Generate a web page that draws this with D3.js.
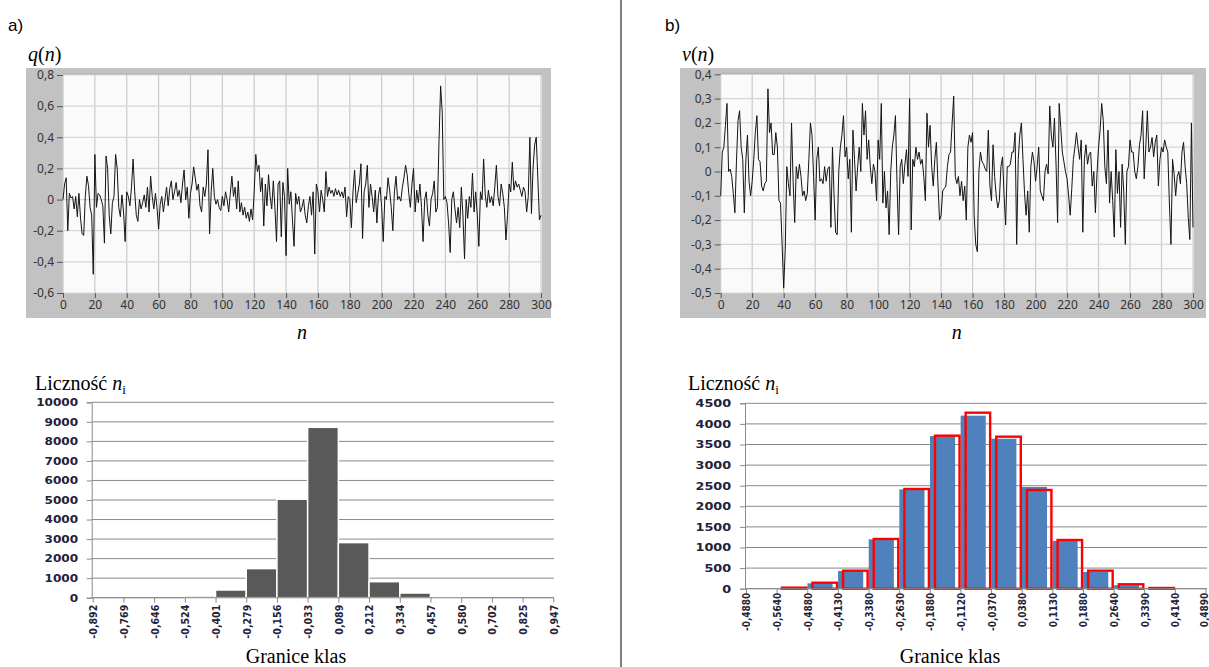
<!DOCTYPE html>
<html>
<head>
<meta charset="utf-8">
<script src="https://cdn.jsdelivr.net/npm/d3@7"></script>
<style>
  body { margin: 0; background: #fff; }
  svg { display: block; }
</style>
</head>
<body>
<svg id="chart" width="1209" height="667"></svg>
<script>
// ---- quantisation error q(n), n = 0..300 ----
const qSeries = [
  0.00, 0.10, 0.14, -0.20, 0.04, 0.01, 0.02, -0.06, 0.02, -0.11,
  0.04, -0.12, -0.22, -0.23, 0.02, 0.15, 0.09, -0.05, -0.10, -0.48,
  0.29, -0.05, 0.04, 0.03, 0.00, -0.04, -0.28, 0.28, 0.20, -0.10,
  -0.22, -0.02, 0.02, 0.29, 0.20, -0.05, -0.11, 0.03, -0.08, -0.27,
  0.05, 0.02, -0.04, 0.08, 0.26, 0.05, -0.10, -0.14, 0.00, -0.06,
  -0.02, 0.03, -0.05, 0.08, -0.08, 0.15, 0.02, -0.06, 0.04, -0.05,
  -0.19, -0.03, 0.02, -0.08, 0.00, 0.08, -0.04, 0.07, 0.12, 0.00,
  0.05, 0.11, 0.02, 0.06, -0.02, 0.10, 0.19, 0.00, 0.08, -0.12,
  0.04, 0.10, 0.21, 0.14, 0.06, 0.10, -0.04, -0.08, 0.08, 0.02,
  0.10, 0.32, -0.22, 0.05, 0.20, 0.02, -0.03, 0.00, -0.05, -0.07,
  0.02, -0.04, 0.05, 0.00, -0.08, 0.04, 0.15, 0.02, 0.08, -0.06,
  0.12, -0.08, -0.02, -0.10, -0.05, -0.12, -0.08, -0.14, -0.06, -0.13,
  0.05, 0.29, 0.18, 0.22, 0.05, 0.14, -0.17, 0.10, -0.04, 0.16,
  0.02, -0.06, 0.12, -0.05, -0.27, 0.10, 0.12, -0.24, 0.11, 0.02,
  -0.36, 0.20, -0.03, 0.05, -0.13, -0.30, 0.04, -0.03, 0.02, -0.08,
  -0.05, 0.00, -0.10, -0.15, -0.04, 0.02, -0.10, 0.05, -0.35, 0.10,
  0.05, -0.08, 0.06, 0.00, -0.08, 0.18, 0.02, 0.08, 0.04, 0.06,
  0.02, 0.07, 0.03, 0.06, 0.02, 0.05, 0.01, 0.08, -0.11, 0.02,
  0.00, -0.18, 0.05, 0.19, -0.02, 0.04, 0.10, 0.23, -0.25, 0.05,
  0.10, 0.22, -0.05, 0.10, 0.02, -0.08, 0.06, -0.15, 0.03, 0.08,
  -0.05, -0.27, 0.02, 0.00, 0.14, 0.06, -0.05, -0.20, 0.05, 0.15,
  0.00, 0.02, -0.01, 0.08, 0.14, 0.22, 0.16, 0.04, -0.05, 0.10,
  0.20, -0.08, 0.06, -0.02, 0.10, -0.05, -0.27, 0.00, 0.05, -0.10,
  -0.17, 0.00, 0.04, 0.12, -0.08, -0.05, 0.38, 0.73, 0.56, 0.00,
  0.02, -0.02, -0.15, -0.34, 0.00, 0.05, -0.06, -0.15, -0.05, -0.18,
  0.08, -0.10, -0.38, 0.00, -0.12, 0.02, -0.05, 0.17, -0.08, 0.05,
  -0.10, -0.30, 0.05, 0.00, 0.26, 0.03, -0.05, 0.06, -0.02, 0.02,
  -0.04, 0.08, 0.22, 0.02, -0.04, 0.10, 0.04, -0.05, -0.26, -0.10,
  0.10, 0.05, 0.24, 0.06, 0.12, 0.08, 0.10, 0.06, 0.02, 0.08,
  0.05, -0.08, 0.02, 0.40, -0.09, 0.20, 0.35, 0.40, 0.14, -0.13, -0.10
];

// ---- noise v(n), n = 0..300 ----
const vSeries = [
  -0.10, 0.08, 0.10, 0.19, 0.28, 0.00, 0.01, -0.02, -0.09, -0.17,
  0.04, 0.21, 0.25, 0.10, 0.05, -0.17, 0.05, 0.15, -0.04, -0.10,
  -0.04, 0.05, 0.16, 0.23, 0.05, 0.04, -0.06, -0.08, -0.05, -0.04,
  0.34, 0.16, 0.20, 0.07, 0.07, 0.16, 0.10, -0.12, -0.13, -0.30,
  -0.48, -0.32, 0.02, -0.05, -0.10, 0.20, -0.04, -0.21, 0.02, -0.03,
  0.03, -0.02, -0.10, -0.08, -0.12, -0.09, 0.05, 0.20, 0.15, -0.02,
  -0.20, 0.05, 0.10, -0.04, -0.03, -0.05, 0.02, -0.04, 0.01, 0.02,
  -0.23, 0.10, -0.10, -0.25, -0.26, 0.00, 0.10, 0.15, 0.23, 0.06,
  0.10, -0.03, 0.05, -0.25, 0.17, 0.05, -0.08, 0.02, 0.10, 0.00,
  0.28, 0.15, 0.25, 0.05, 0.13, 0.02, -0.05, 0.03, 0.00, -0.12,
  0.13, 0.05, 0.28, -0.13, 0.00, -0.15, -0.08, -0.26, 0.00, 0.10,
  0.15, 0.23, -0.05, -0.26, 0.02, 0.05, -0.05, 0.03, 0.09, -0.02,
  0.30, -0.24, 0.05, 0.02, 0.10, 0.05, 0.08, 0.03, 0.05, -0.02,
  -0.12, 0.24, 0.10, 0.19, 0.02, -0.06, 0.05, 0.12, -0.05, -0.20,
  -0.18, -0.08, -0.07, -0.06, 0.02, 0.07, 0.08, 0.20, 0.31, -0.02,
  -0.05, -0.02, -0.10, -0.04, -0.12, -0.06, -0.20, 0.10, 0.15, 0.12,
  0.16, -0.18, -0.30, -0.33, 0.00, 0.08, 0.04, 0.03, 0.01, 0.00,
  0.17, -0.06, -0.12, 0.11, -0.02, -0.10, -0.15, -0.12, 0.02, 0.06,
  -0.10, -0.22, 0.02, 0.02, 0.03, 0.08, 0.08, 0.16, -0.30, 0.05,
  0.15, 0.20, 0.05, -0.09, -0.18, -0.08, -0.25, 0.02, 0.08, 0.04,
  -0.04, 0.02, 0.10, -0.08, -0.10, -0.12, 0.00, 0.03, -0.01, 0.27,
  0.15, 0.10, 0.22, 0.03, -0.21, 0.28, 0.18, 0.08, 0.04, 0.00,
  -0.03, -0.10, -0.18, -0.07, 0.05, 0.10, 0.16, 0.10, 0.05, 0.13,
  -0.25, 0.05, 0.11, 0.03, 0.07, 0.08, -0.06, 0.00, -0.17, -0.01,
  0.10, 0.17, 0.28, 0.21, 0.02, -0.05, 0.17, -0.13, 0.00, -0.12,
  -0.27, 0.09, -0.09, 0.00, -0.23, 0.03, -0.08, -0.30, 0.00, 0.02,
  0.13, 0.08, 0.08, 0.00, -0.03, 0.02, 0.11, 0.15, 0.25, -0.03,
  0.10, 0.25, 0.08, 0.10, 0.14, 0.06, 0.12, 0.15, -0.06, 0.05,
  0.10, 0.08, 0.13, 0.10, 0.08, -0.13, -0.30, 0.05, -0.01, -0.10,
  -0.02, 0.00, -0.05, 0.08, 0.12, 0.02, -0.05, -0.19, -0.28, 0.20, -0.23
];

// ---- axis ticks of the two time plots ----
const nTicks = [0, 20, 40, 60, 80, 100, 120, 140, 160, 180, 200, 220, 240, 260, 280, 300];
const qTicks = [-0.6, -0.4, -0.2, 0, 0.2, 0.4, 0.6, 0.8];
const vTicks = [-0.5, -0.4, -0.3, -0.2, -0.1, 0, 0.1, 0.2, 0.3, 0.4];

// ---- histogram of q(n) ----
const histAEdges = ["-0,892", "-0,769", "-0,646", "-0,524", "-0,401", "-0,279", "-0,156", "-0,033",
                    "0,089", "0,212", "0,334", "0,457", "0,580", "0,702", "0,825", "0,947"];
const histACounts = [0, 0, 0, 85, 395, 1490, 5040, 8720, 2820, 820, 240, 70, 0, 0, 0];
const histATicks = [0, 1000, 2000, 3000, 4000, 5000, 6000, 7000, 8000, 9000, 10000];

// ---- histogram of v(n): measured counts and normal-distribution counts ----
const histBEdges = ["-0,4880", "-0,5640", "-0,4880", "-0,4130", "-0,3380", "-0,2630", "-0,1880", "-0,1120",
                    "-0,0370", "0,0380", "0,1130", "0,1880", "0,2640", "0,3390", "0,4140", "0,4890"];
const histBMeasured = [0, 8, 130, 430, 1200, 2410, 3705, 4200, 3640, 2470, 1160, 405, 85, 8, 0];
const histBNormal   = [0, 25, 145, 437, 1207, 2420, 3714, 4272, 3690, 2396, 1182, 437, 107, 17, 0];
const histBTicks = [0, 500, 1000, 1500, 2000, 2500, 3000, 3500, 4000, 4500];

const plLocale = d3.formatLocale({ decimal: ",", thousands: "", grouping: [3], currency: ["", ""], minus: "-" });
const fmt1 = plLocale.format(".1f");
const tickFmt = v => (v === 0 ? "0" : fmt1(v));

const svg = d3.select("#chart");
const SERIF = "'Liberation Serif', 'Times New Roman', serif";
const SANS = "'Noto Sans', 'Open Sans', sans-serif";
const VERD = "'DejaVu Sans', Verdana, sans-serif";

// divider between the two halves
svg.append("line").attr("x1", 621).attr("x2", 621).attr("y1", 0).attr("y2", 667)
  .attr("stroke", "#000").attr("stroke-width", 1);

svg.append("text").attr("x", 8).attr("y", 31).attr("font-family", "'Liberation Sans', Arial, sans-serif")
  .attr("font-size", 17).text("a)");
svg.append("text").attr("x", 665).attr("y", 31).attr("font-family", "'Liberation Sans', Arial, sans-serif")
  .attr("font-size", 17).text("b)");

// ---------- time plot ----------
function timePlot(cfg) {
  const g = svg.append("g");
  g.append("rect").attr("x", cfg.frame[0]).attr("y", cfg.frame[1])
    .attr("width", cfg.frame[2] - cfg.frame[0]).attr("height", cfg.frame[3] - cfg.frame[1])
    .attr("fill", "#c2c2c2");

  const x = d3.scaleLinear().domain([0, 300]).range([cfg.plot[0], cfg.plot[1]]);
  const y = d3.scaleLinear().domain(cfg.yDomain).range([cfg.plot[3], cfg.plot[2]]);

  g.append("rect").attr("x", cfg.plot[0]).attr("y", cfg.plot[2] - 1)
    .attr("width", cfg.plot[1] - cfg.plot[0] + 1).attr("height", cfg.plot[3] - cfg.plot[2] + 1)
    .attr("fill", "#fafafa");

  // grid
  g.append("g").selectAll("line").data(nTicks).join("line")
    .attr("x1", d => x(d)).attr("x2", d => x(d))
    .attr("y1", cfg.plot[2] - 1).attr("y2", cfg.plot[3])
    .attr("stroke", "#cbcbcb").attr("stroke-width", 1.2);
  g.append("g").selectAll("line").data(cfg.yTicks).join("line")
    .attr("x1", cfg.plot[0]).attr("x2", cfg.plot[1] + 1)
    .attr("y1", d => y(d)).attr("y2", d => y(d))
    .attr("stroke", "#d6d6d6").attr("stroke-width", 1.2);
  g.append("line").attr("x1", cfg.plot[0]).attr("x2", cfg.plot[1] + 1)
    .attr("y1", cfg.plot[2] - 1).attr("y2", cfg.plot[2] - 1).attr("stroke", "#a8a8a8");

  // axes
  const ax = g.append("g").attr("transform", `translate(0,${cfg.plot[3]})`)
    .call(d3.axisBottom(x).tickValues(nTicks).tickSize(5).tickPadding(2).tickFormat(d3.format("d")));
  const ay = g.append("g").attr("transform", `translate(${cfg.plot[0]},0)`)
    .call(d3.axisLeft(y).tickValues(cfg.yTicks).tickSize(6).tickPadding(3).tickFormat(tickFmt));
  [ax, ay].forEach(a => {
    a.select(".domain").remove();
    a.selectAll(".tick line").attr("stroke", "#555");
    a.selectAll(".tick text").attr("font-family", SANS).attr("font-size", 12).attr("fill", "#333");
  });

  // signal
  const line = d3.line().x((d, i) => x(i)).y(d => y(d));
  g.append("path").datum(cfg.data).attr("d", line)
    .attr("fill", "none").attr("stroke", "#141414").attr("stroke-width", 1).attr("stroke-linejoin", "miter");

  // labels
  const yl = g.append("text").attr("x", cfg.frame[0] + 2).attr("y", 61)
    .attr("font-family", SERIF).attr("font-size", 20);
  yl.append("tspan").attr("font-style", "italic").text(cfg.name);
  yl.append("tspan").text("(");
  yl.append("tspan").attr("font-style", "italic").text("n");
  yl.append("tspan").text(")");

  g.append("text").attr("x", (cfg.plot[0] + cfg.plot[1]) / 2).attr("y", 339)
    .attr("text-anchor", "middle").attr("font-family", SERIF).attr("font-size", 20)
    .attr("font-style", "italic").text("n");
}

timePlot({ data: qSeries, name: "q", frame: [26, 68, 551, 318], plot: [63, 541, 75, 293],
           yDomain: [-0.6, 0.8], yTicks: qTicks });
timePlot({ data: vSeries, name: "v", frame: [680, 68, 1206, 318], plot: [720.7, 1193, 74.3, 293],
           yDomain: [-0.5, 0.4], yTicks: vTicks });

// ---------- histograms ----------
function histFrame(cfg) {
  const g = svg.append("g");
  const x = d3.scaleLinear().domain([0, cfg.edges.length - 1]).range([cfg.x0, cfg.x1]);
  const y = d3.scaleLinear().domain([0, cfg.yMax]).range([cfg.y0, cfg.yTop]);

  g.append("g").selectAll("line").data(cfg.yTicks).join("line")
    .attr("x1", cfg.x0 - 1).attr("x2", cfg.xRight)
    .attr("y1", d => y(d)).attr("y2", d => y(d))
    .attr("stroke", "#8a8a8a").attr("stroke-width", 1);

  const marks = g.append("g");

  const ay = g.append("g").attr("transform", `translate(${cfg.x0 - 1},0)`)
    .call(d3.axisLeft(y).tickValues(cfg.yTicks).tickSize(5).tickPadding(4).tickFormat(d3.format("d")));
  ay.select(".domain").attr("stroke", "#8a8a8a");
  ay.selectAll(".tick line").attr("stroke", "#8a8a8a");
  ay.selectAll(".tick text").attr("font-family", VERD).attr("font-weight", "bold")
    .attr("font-size", cfg.yFont).attr("fill", "#23233a")
    .attr("transform", `scale(${cfg.stretch},1)`).attr("x", -(9) / cfg.stretch - 4);

  const n = cfg.edges.length;
  const ax = g.append("g").attr("transform", `translate(0,${cfg.y0})`)
    .call(d3.axisBottom(x).tickValues(d3.range(n)).tickSize(5)
      .tickFormat(i => cfg.edges[i]));
  ax.select(".domain").attr("stroke", "#8a8a8a").attr("d", `M${cfg.x0 - 1},0H${cfg.xRight}`);
  ax.selectAll(".tick line").attr("stroke", "#8a8a8a");
  ax.selectAll(".tick text").attr("font-family", VERD).attr("font-weight", "bold")
    .attr("font-size", cfg.xFont).attr("fill", "#23233a")
    .attr("text-anchor", "end").attr("x", -cfg.xPad).attr("y", 0).attr("dy", "0.36em")
    .attr("transform", (d, i) => `translate(${i === n - 1 ? cfg.lastShift : 0},0) scale(${cfg.stretch},1) rotate(-90)`);

  const t = g.append("text").attr("x", cfg.titleX).attr("y", 390)
    .attr("font-family", SERIF).attr("font-size", 20);
  t.append("tspan").text("Liczność ");
  t.append("tspan").attr("font-style", "italic").text("n");
  t.append("tspan").attr("font-size", 13).attr("dy", 4).text("i");

  g.append("text").attr("x", cfg.xlabX).attr("y", 663).attr("text-anchor", "middle")
    .attr("font-family", SERIF).attr("font-size", 20).text("Granice klas");

  return { marks, x, y };
}

// histogram a)
{
  const h = histFrame({ edges: histAEdges, x0: 92.7, x1: 553.3, xRight: 554, y0: 597.7, yTop: 402.3,
                        yMax: 10000, yTicks: histATicks, yFont: 10.5, xFont: 9.5, xPad: 7, stretch: 1.15,
                        lastShift: 0, titleX: 35, xlabX: 296 });
  h.marks.selectAll("rect").data(histACounts).join("rect")
    .attr("x", (d, i) => h.x(i)).attr("width", (d, i) => h.x(i + 1) - h.x(i))
    .attr("y", d => h.y(d)).attr("height", d => h.y(0) - h.y(d))
    .attr("fill", "#595959").attr("stroke", "#ffffff").attr("stroke-width", 1.5);
}

// histogram b)
{
  const h = histFrame({ edges: histBEdges, x0: 746, x1: 1205.5, xRight: 1207, y0: 588.7, yTop: 403.3,
                        yMax: 4500, yTicks: histBTicks, yFont: 10.5, xFont: 9, xPad: 4, stretch: 1.22,
                        lastShift: -2, titleX: 688, xlabX: 950 });
  const w = (h.x(1) - h.x(0));
  h.marks.append("g").selectAll("rect").data(histBMeasured).join("rect")
    .attr("x", (d, i) => h.x(i) + 0.2).attr("width", w * 0.82)
    .attr("y", d => h.y(d)).attr("height", d => h.y(0) - h.y(d))
    .attr("fill", "#4f81bd");
  h.marks.append("g").selectAll("rect").data(histBNormal).join("rect")
    .attr("x", (d, i) => h.x(i) + w * 0.17).attr("width", w * 0.8)
    .attr("y", d => h.y(d)).attr("height", d => Math.max(0, h.y(0) - h.y(d)))
    .attr("fill", "none").attr("stroke", "#ff0000").attr("stroke-width", 2.4)
    .attr("visibility", d => (d > 0 ? "visible" : "hidden"));
}
</script>
</body>
</html>
